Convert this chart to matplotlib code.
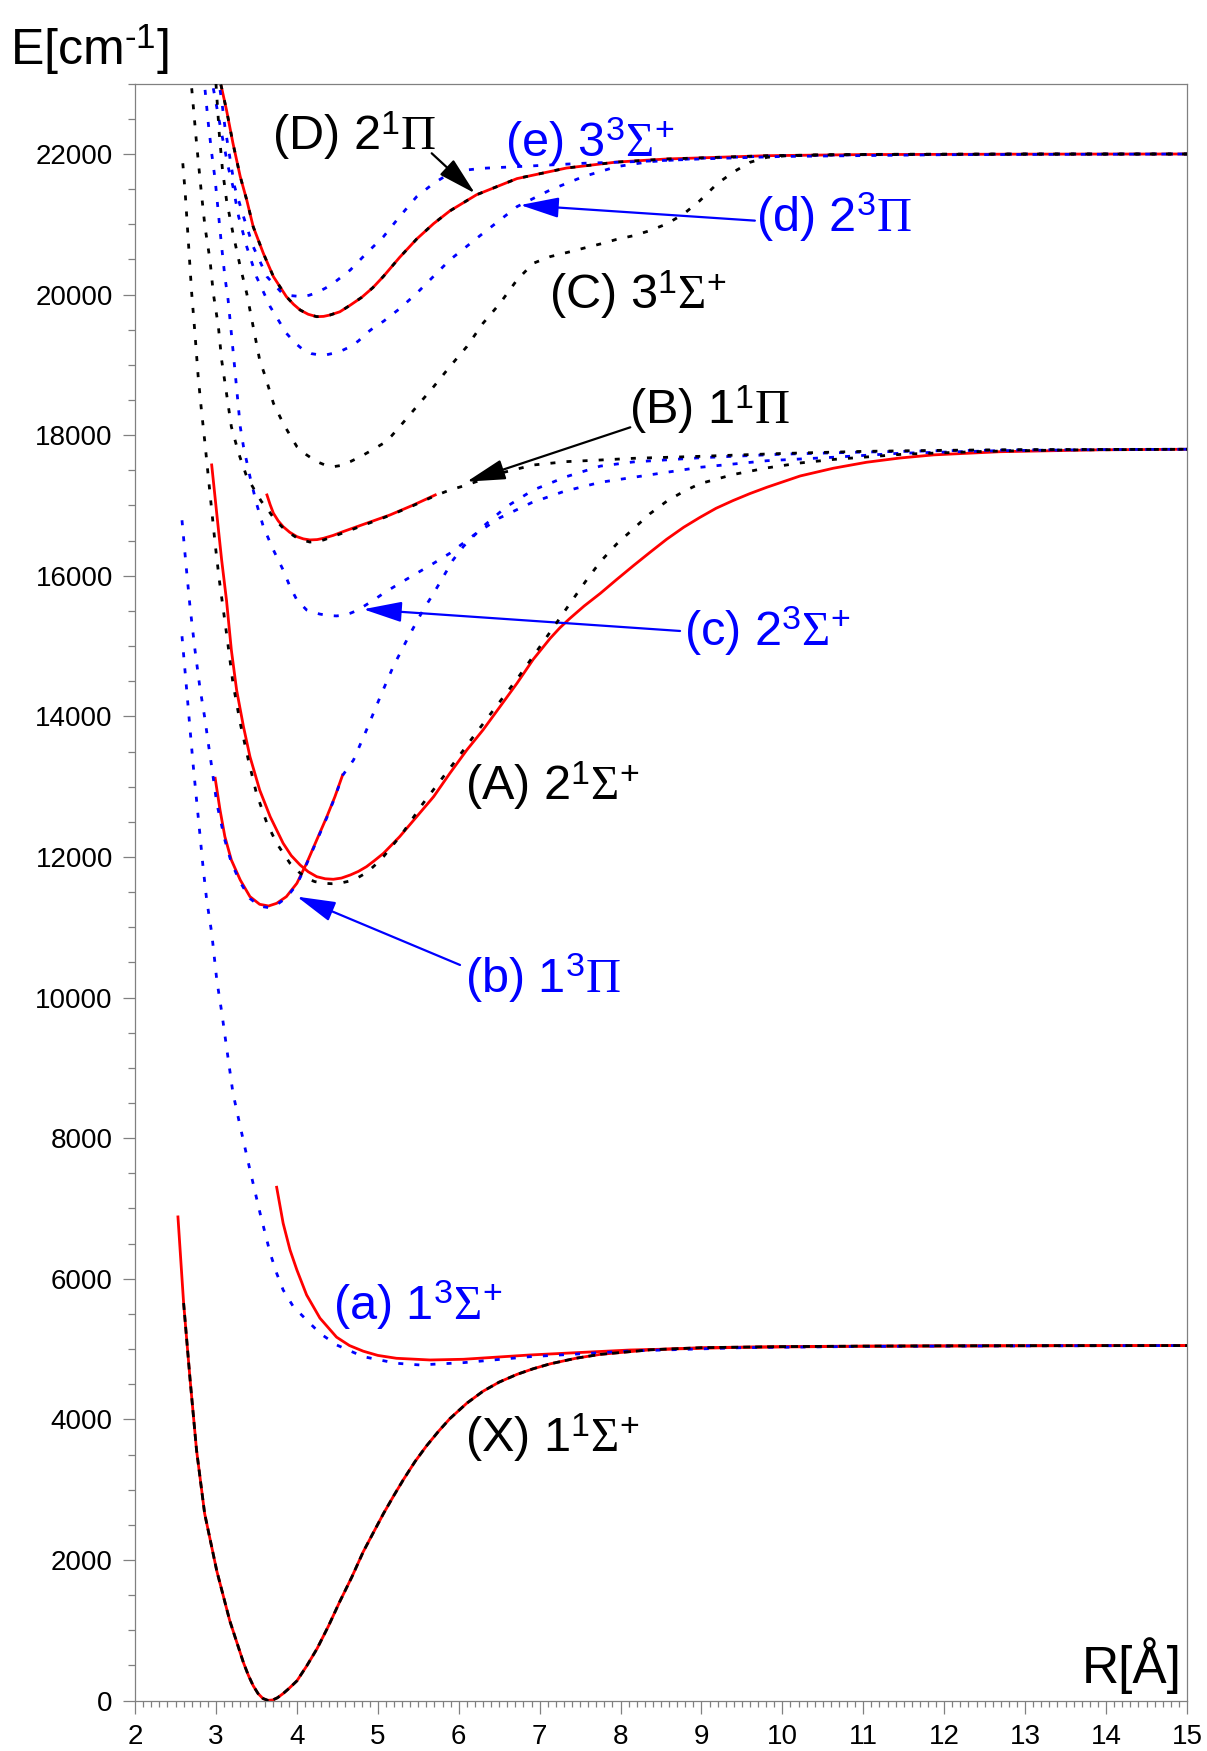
import matplotlib
matplotlib.use('Agg')
import matplotlib.pyplot as plt
from matplotlib.ticker import MultipleLocator

plt.rcParams['font.family'] = 'Liberation Sans'
plt.rcParams['mathtext.fontset'] = 'custom'
plt.rcParams['mathtext.rm'] = 'Liberation Serif'
plt.rcParams['mathtext.it'] = 'Liberation Serif:italic'
plt.rcParams['mathtext.bf'] = 'Liberation Serif:bold'
plt.rcParams['mathtext.sf'] = 'Liberation Sans'

# ---- experimental potentials (red) ----
X_r = [2.53, 2.60, 2.68, 2.76, 2.86, 3.01, 3.17, 3.34, 3.40, 3.46, 3.52, 3.58, 3.64, 3.70,
       3.76, 3.83, 3.90, 4.00, 4.12, 4.25, 4.39, 4.53, 4.68, 4.82, 4.95, 5.07, 5.20, 5.32,
       5.46, 5.60, 5.75, 5.89, 6.10, 6.30, 6.50, 6.72, 6.92, 7.13, 7.45, 7.75, 8.37, 9.00,
       10.0, 11.0, 12.0, 13.5, 15.0]
X_e = [6880, 5655, 4566, 3560, 2660, 1844, 1137, 538, 360, 211, 100, 30, 3, 8,
       40, 100, 170, 280, 490, 740, 1060, 1408, 1760, 2117, 2400, 2660, 2920, 3150,
       3400, 3620, 3830, 4010, 4230, 4400, 4530, 4640, 4720, 4790, 4870, 4925, 4990, 5020,
       5035, 5042, 5046, 5049, 5050]

a_r = [3.75, 3.83, 3.915, 4.00, 4.12, 4.285, 4.49, 4.65, 4.82, 5.00, 5.23, 5.645, 6.06, 6.88,
       8.12, 9.5, 11.0, 13.0, 15.0]
a_e = [7302, 6790, 6410, 6125, 5770, 5440, 5170, 5050, 4970, 4910, 4869, 4845, 4855, 4916,
       4987, 5025, 5040, 5047, 5050]

b_r = [2.99, 3.05, 3.11, 3.19, 3.30, 3.42, 3.54, 3.65, 3.75, 3.87, 4.00, 4.12, 4.245, 4.37,
       4.47, 4.565]
b_e = [13120, 12669, 12289, 11957, 11673, 11436, 11327, 11303, 11341, 11436, 11626, 11910,
       12242, 12573, 12858, 13166]

A_r = [2.947, 3.01, 3.07, 3.13, 3.19, 3.255, 3.34, 3.42, 3.54, 3.67, 3.83, 3.93, 4.04, 4.14,
       4.245, 4.35, 4.45, 4.55, 4.66, 4.76, 4.86, 4.96, 5.07, 5.27, 5.48, 5.69, 5.89, 6.10,
       6.30, 6.51, 6.72, 6.92, 7.13, 7.25, 7.37, 7.55, 7.75, 7.95, 8.16, 8.36, 8.57, 8.78,
       8.98, 9.18, 9.39, 9.60, 9.81, 10.22, 10.63, 11.04, 11.45, 11.87, 12.69, 13.93, 15.0]
A_e = [17577, 16880, 16225, 15652, 14944, 14375, 13853, 13427, 12953, 12573, 12195, 12020,
       11886, 11790, 11720, 11690, 11683, 11700, 11744, 11795, 11862, 11950, 12052, 12289,
       12573, 12858, 13190, 13522, 13807, 14138, 14471, 14810, 15110, 15260, 15390, 15570,
       15750, 15945, 16145, 16330, 16520, 16690, 16830, 16960, 17070, 17170, 17260, 17420,
       17530, 17615, 17675, 17720, 17765, 17792, 17800]

B_r = [3.63, 3.67, 3.71, 3.77, 3.83, 3.91, 4.00, 4.08, 4.16, 4.25, 4.33, 4.45, 4.57, 4.86,
       5.15, 5.44, 5.71]
B_e = [17150, 17010, 16889, 16780, 16699, 16620, 16557, 16525, 16510, 16515, 16534, 16575,
       16628, 16747, 16865, 17007, 17150]

D_r = [3.06, 3.13, 3.21, 3.30, 3.38, 3.46, 3.585, 3.71, 3.87, 3.96, 4.04, 4.14, 4.245, 4.33,
       4.41, 4.53, 4.66, 4.80, 4.94, 5.07, 5.27, 5.48, 5.69, 5.89, 6.22, 6.72, 7.33, 7.95,
       8.57, 9.81, 11.0, 13.0, 15.0]
D_e = [22990, 22626, 22152, 21678, 21346, 20966, 20588, 20255, 19971, 19860, 19781, 19720,
       19686, 19690, 19710, 19755, 19850, 19960, 20100, 20260, 20530, 20790, 21010, 21190,
       21420, 21650, 21800, 21885, 21929, 21976, 21992, 21998, 22000]

# ---- calculated singlet states (black) ----
A1_r = [2.59, 2.62, 2.66, 2.70, 2.74, 2.78, 2.82, 2.864, 2.905, 2.947, 2.99, 3.04, 3.13, 3.21,
        3.30, 3.40, 3.50, 3.63, 3.75, 3.915, 4.02, 4.12, 4.22, 4.33, 4.43, 4.53, 4.64, 4.74,
        4.82, 4.90, 4.98, 5.07, 5.30, 5.56, 5.81, 5.975, 6.18, 6.43, 6.72, 6.96, 7.13, 7.42,
        7.58, 7.75, 7.95, 8.16, 8.36, 8.57, 8.78, 8.98, 9.39, 9.81, 10.22, 10.63, 11.5, 12.5,
        13.5, 15.0]
A1_e = [21868, 21441, 20730, 20018, 19450, 18833, 18358, 17885, 17410, 16936, 16450, 15950,
        15182, 14471, 13902, 13380, 12906, 12479, 12195, 11910, 11790, 11697, 11650, 11626,
        11620, 11626, 11655, 11697, 11750, 11815, 11900, 12005, 12330, 12764, 13142, 13390,
        13711, 14091, 14530, 14920, 15200, 15680, 15940, 16200, 16450, 16670, 16880, 17060,
        17200, 17310, 17440, 17535, 17605, 17655, 17730, 17770, 17790, 17800]

B1_r = [2.70, 2.76, 2.82, 2.864, 2.926, 2.967, 3.03, 3.07, 3.13, 3.19, 3.28, 3.38, 3.50, 3.56,
        3.63, 3.72, 3.83, 3.92, 4.00, 4.08, 4.16, 4.25, 4.33, 4.45, 4.57, 4.86, 5.15, 5.44,
        5.71, 5.89, 6.10, 6.51, 6.92, 7.33, 7.75, 8.16, 9.0, 10.0, 11.0, 12.0, 13.0, 15.0]
B1_e = [22935, 22152, 21441, 20966, 20492, 20018, 19543, 19070, 18596, 18121, 17743, 17410,
        17174, 17060, 16960, 16810, 16680, 16600, 16540, 16505, 16480, 16490, 16510, 16560,
        16610, 16735, 16860, 17000, 17140, 17220, 17292, 17458, 17576, 17624, 17647, 17671,
        17700, 17740, 17770, 17785, 17795, 17800]

C1_r = [3.00, 3.04, 3.08, 3.13, 3.21, 3.30, 3.38, 3.46, 3.54, 3.61, 3.71, 3.83, 3.92, 4.00,
        4.12, 4.245, 4.35, 4.45, 4.55, 4.66, 4.76, 4.86, 4.96, 5.07, 5.17, 5.27, 5.48, 5.69,
        5.89, 6.10, 6.30, 6.51, 6.72, 6.92, 7.13, 7.38, 7.54, 7.75, 7.95, 8.16, 8.36, 8.57,
        8.78, 8.98, 9.19, 9.39, 9.60, 9.81, 10.05, 10.5, 11.5, 13.0, 15.0]
C1_e = [23000, 22300, 21780, 21346, 20872, 20397, 20018, 19543, 19070, 18833, 18454, 18169,
        17990, 17837, 17720, 17624, 17575, 17552, 17570, 17624, 17680, 17743, 17810, 17885,
        17990, 18121, 18406, 18690, 18975, 19260, 19592, 19876, 20208, 20445, 20540, 20611,
        20659, 20720, 20785, 20838, 20909, 21005, 21147, 21336, 21573, 21740, 21882, 21953,
        21976, 21990, 21997, 22000, 22000]

# ---- calculated triplet states (blue) ----
a3_r = [2.58, 2.64, 2.68, 2.72, 2.76, 2.80, 2.84, 2.885, 2.947, 3.01, 3.07, 3.13, 3.21, 3.30,
        3.42, 3.545, 3.67, 3.75, 3.83, 3.956, 4.12, 4.285, 4.49, 4.82, 5.23, 5.52, 6.06, 6.88,
        8.12, 9.5, 11.0, 13.0, 15.0]
a3_e = [15140, 14350, 13810, 13285, 12810, 12340, 11860, 11390, 10920, 10250, 9800, 9300,
        8641, 8164, 7548, 6932, 6363, 6078, 5841, 5603, 5414, 5225, 5059, 4892, 4798, 4774,
        4807, 4892, 4973, 5020, 5038, 5046, 5050]

b3_r = [2.58, 2.63, 2.68, 2.74, 2.80, 2.864, 2.905, 2.947, 3.01, 3.11, 3.19, 3.30, 3.42, 3.54,
        3.65, 3.75, 3.87, 4.00, 4.12, 4.245, 4.37, 4.47, 4.565, 4.70, 4.86, 5.03, 5.19, 5.38,
        5.56, 5.69, 5.81, 5.93, 6.06, 6.30, 6.59, 6.92, 7.33, 7.75, 8.16, 9.0, 10.0, 11.0, 12.0,
        13.0, 15.0]
b3_e = [16790, 16150, 15550, 14950, 14420, 13960, 13617, 13285, 12764, 12240, 11920, 11640,
        11410, 11300, 11280, 11320, 11420, 11610, 11900, 12230, 12560, 12850, 13160, 13380,
        13806, 14280, 14708, 15134, 15513, 15751, 15988, 16225, 16420, 16700, 16983, 17220,
        17410, 17560, 17620, 17680, 17730, 17760, 17780, 17790, 17800]

c3_r = [2.865, 2.905, 2.947, 2.99, 3.03, 3.07, 3.11, 3.15, 3.19, 3.23, 3.30, 3.34, 3.42, 3.50,
        3.585, 3.70, 3.83, 3.915, 4.00, 4.12, 4.20, 4.285, 4.39, 4.49, 4.58, 4.66, 4.74, 4.82,
        4.95, 5.07, 5.27, 5.48, 5.69, 5.89, 6.20, 6.50, 6.90, 7.30, 7.75, 8.16, 8.57, 8.98,
        9.81, 10.63, 11.45, 12.69, 13.93, 15.0]
c3_e = [22912, 22437, 22011, 21630, 21157, 20682, 20255, 19924, 19450, 18975, 18121, 17837,
        17410, 17032, 16700, 16390, 16083, 15845, 15656, 15514, 15480, 15455, 15435, 15429,
        15440, 15467, 15505, 15561, 15655, 15751, 15893, 16035, 16178, 16320, 16590, 16820,
        17040, 17200, 17330, 17401, 17472, 17543, 17637, 17686, 17743, 17780, 17795, 17800]

d3_r = [2.967, 3.06, 3.15, 3.21, 3.28, 3.38, 3.50, 3.67, 3.87, 3.98, 4.08, 4.18, 4.285, 4.37,
        4.45, 4.55, 4.66, 4.76, 4.86, 4.96, 5.07, 5.27, 5.48, 5.89, 6.30, 6.51, 6.72, 7.13,
        7.54, 7.95, 8.36, 9.0, 10.0, 11.0, 13.0, 15.0]
d3_e = [22935, 22350, 21820, 21536, 21109, 20682, 20255, 19828, 19450, 19310, 19212, 19160,
        19141, 19145, 19165, 19200, 19259, 19340, 19450, 19540, 19620, 19800, 20018, 20493,
        20872, 21061, 21251, 21488, 21678, 21820, 21891, 21940, 21975, 21990, 21998, 22000]

e3_r = [3.05, 3.07, 3.11, 3.17, 3.23, 3.34, 3.46, 3.63, 3.81, 3.93, 4.06, 4.15, 4.25, 4.35,
        4.45, 4.66, 4.86, 5.07, 5.27, 5.48, 5.69, 5.89, 6.10, 6.30, 6.72, 7.13, 7.54, 8.16,
        9.0, 10.0, 12.0, 15.0]
e3_e = [22910, 22768, 22389, 21962, 21536, 21109, 20682, 20255, 20030, 19985, 19971, 19990,
        20030, 20090, 20161, 20350, 20588, 20824, 21110, 21393, 21583, 21725, 21773, 21797,
        21820, 21844, 21868, 21891, 21930, 21965, 21990, 22000]

fig = plt.figure(figsize=(12.07, 17.51), dpi=100)
ax = fig.add_axes([0.1119, 0.0288, 0.8715, 0.9234])

red_kw = dict(color='#ff0000', lw=2.0, zorder=2)
dot = (0, (1.8, 4.0))
blue_kw = dict(color='#0000ff', lw=2.0, ls=dot, zorder=3)
black_kw = dict(color='black', lw=2.0, ls=dot, zorder=4)

for r, e in [(X_r, X_e), (a_r, a_e), (b_r, b_e), (A_r, A_e), (B_r, B_e), (D_r, D_e)]:
    ax.plot(r, e, **red_kw)

for r, e in [(a3_r, a3_e), (b3_r, b3_e), (c3_r, c3_e), (d3_r, d3_e), (e3_r, e3_e)]:
    ax.plot(r, e, **blue_kw)

for r, e in [(A1_r, A1_e), (B1_r, B1_e), (C1_r, C1_e), (D_r, D_e)]:
    ax.plot(r, e, **black_kw)

# ground state: calculated curve lies right on the experimental one
ax.plot(X_r[1:], X_e[1:], color='black', lw=2.0, ls=(0, (2.5, 1.8)), zorder=4)

ax.set_xlim(2, 15)
ax.set_ylim(0, 23000)
ax.xaxis.set_major_locator(MultipleLocator(1))
ax.xaxis.set_minor_locator(MultipleLocator(0.1))
ax.yaxis.set_major_locator(MultipleLocator(2000))
ax.yaxis.set_minor_locator(MultipleLocator(500))

for s in ax.spines.values():
    s.set_color('#808080')
    s.set_linewidth(0.9)
ax.tick_params(which='both', direction='out', color='#808080', width=0.9,
               top=False, right=False)
ax.tick_params(which='major', length=9, labelsize=20)
ax.tick_params(axis='x', which='major', pad=8)
ax.tick_params(axis='y', which='major', pad=7)
ax.tick_params(axis='x', which='minor', length=4)
ax.tick_params(axis='y', which='minor', length=5)

# state labels
lab = 35
ax.text(3.69, 22057, r'(D) $\mathsf{2}^{\mathsf{1}}\Pi$', fontsize=lab, color='black')
ax.text(6.57, 21962, r'(e) $\mathsf{3}^{\mathsf{3}}\Sigma^{\mathsf{+}}$', fontsize=lab, color='#0000ff')
ax.text(9.68, 20886, r'(d) $\mathsf{2}^{\mathsf{3}}\Pi$', fontsize=lab, color='#0000ff')
ax.text(7.11, 19800, r'(C) $\mathsf{3}^{\mathsf{1}}\Sigma^{\mathsf{+}}$', fontsize=lab, color='black')
ax.text(8.10, 18160, r'(B) $\mathsf{1}^{\mathsf{1}}\Pi$', fontsize=lab, color='black')
ax.text(8.78, 15000, r'(c) $\mathsf{2}^{\mathsf{3}}\Sigma^{\mathsf{+}}$', fontsize=lab, color='#0000ff')
ax.text(6.08, 12810, r'(A) $\mathsf{2}^{\mathsf{1}}\Sigma^{\mathsf{+}}$', fontsize=lab, color='black')
ax.text(6.08, 10061, r'(b) $\mathsf{1}^{\mathsf{3}}\Pi$', fontsize=lab, color='#0000ff')
ax.text(4.45, 5414, r'(a) $\mathsf{1}^{\mathsf{3}}\Sigma^{\mathsf{+}}$', fontsize=lab, color='#0000ff')
ax.text(6.08, 3536, r'(X) $\mathsf{1}^{\mathsf{1}}\Sigma^{\mathsf{+}}$', fontsize=lab, color='black')

# pointers from labels to curves
arrow = dict(arrowstyle='-|>,head_length=1.7,head_width=0.45', lw=1.6,
             shrinkA=0, shrinkB=0, mutation_scale=14)
ax.annotate('', xy=(6.20, 21441), xytext=(5.666, 22010), arrowprops=dict(color='black', **arrow))
ax.annotate('', xy=(6.76, 21274), xytext=(9.66, 21052), arrowprops=dict(color='#0000ff', **arrow))
ax.annotate('', xy=(6.10, 17339), xytext=(8.12, 18112), arrowprops=dict(color='black', **arrow))
ax.annotate('', xy=(4.82, 15524), xytext=(8.735, 15215), arrowprops=dict(color='#0000ff', **arrow))
ax.annotate('', xy=(4.00, 11436), xytext=(6.016, 10464), arrowprops=dict(color='#0000ff', **arrow))

fig.text(0.008, 0.9629, 'E[cm$^{\\mathsf{\u2010}\\mathsf{1}}$]', fontsize=36)
fig.text(0.8964, 0.0387, 'R[Å]', fontsize=37)

fig.savefig('out.png', dpi=100)
